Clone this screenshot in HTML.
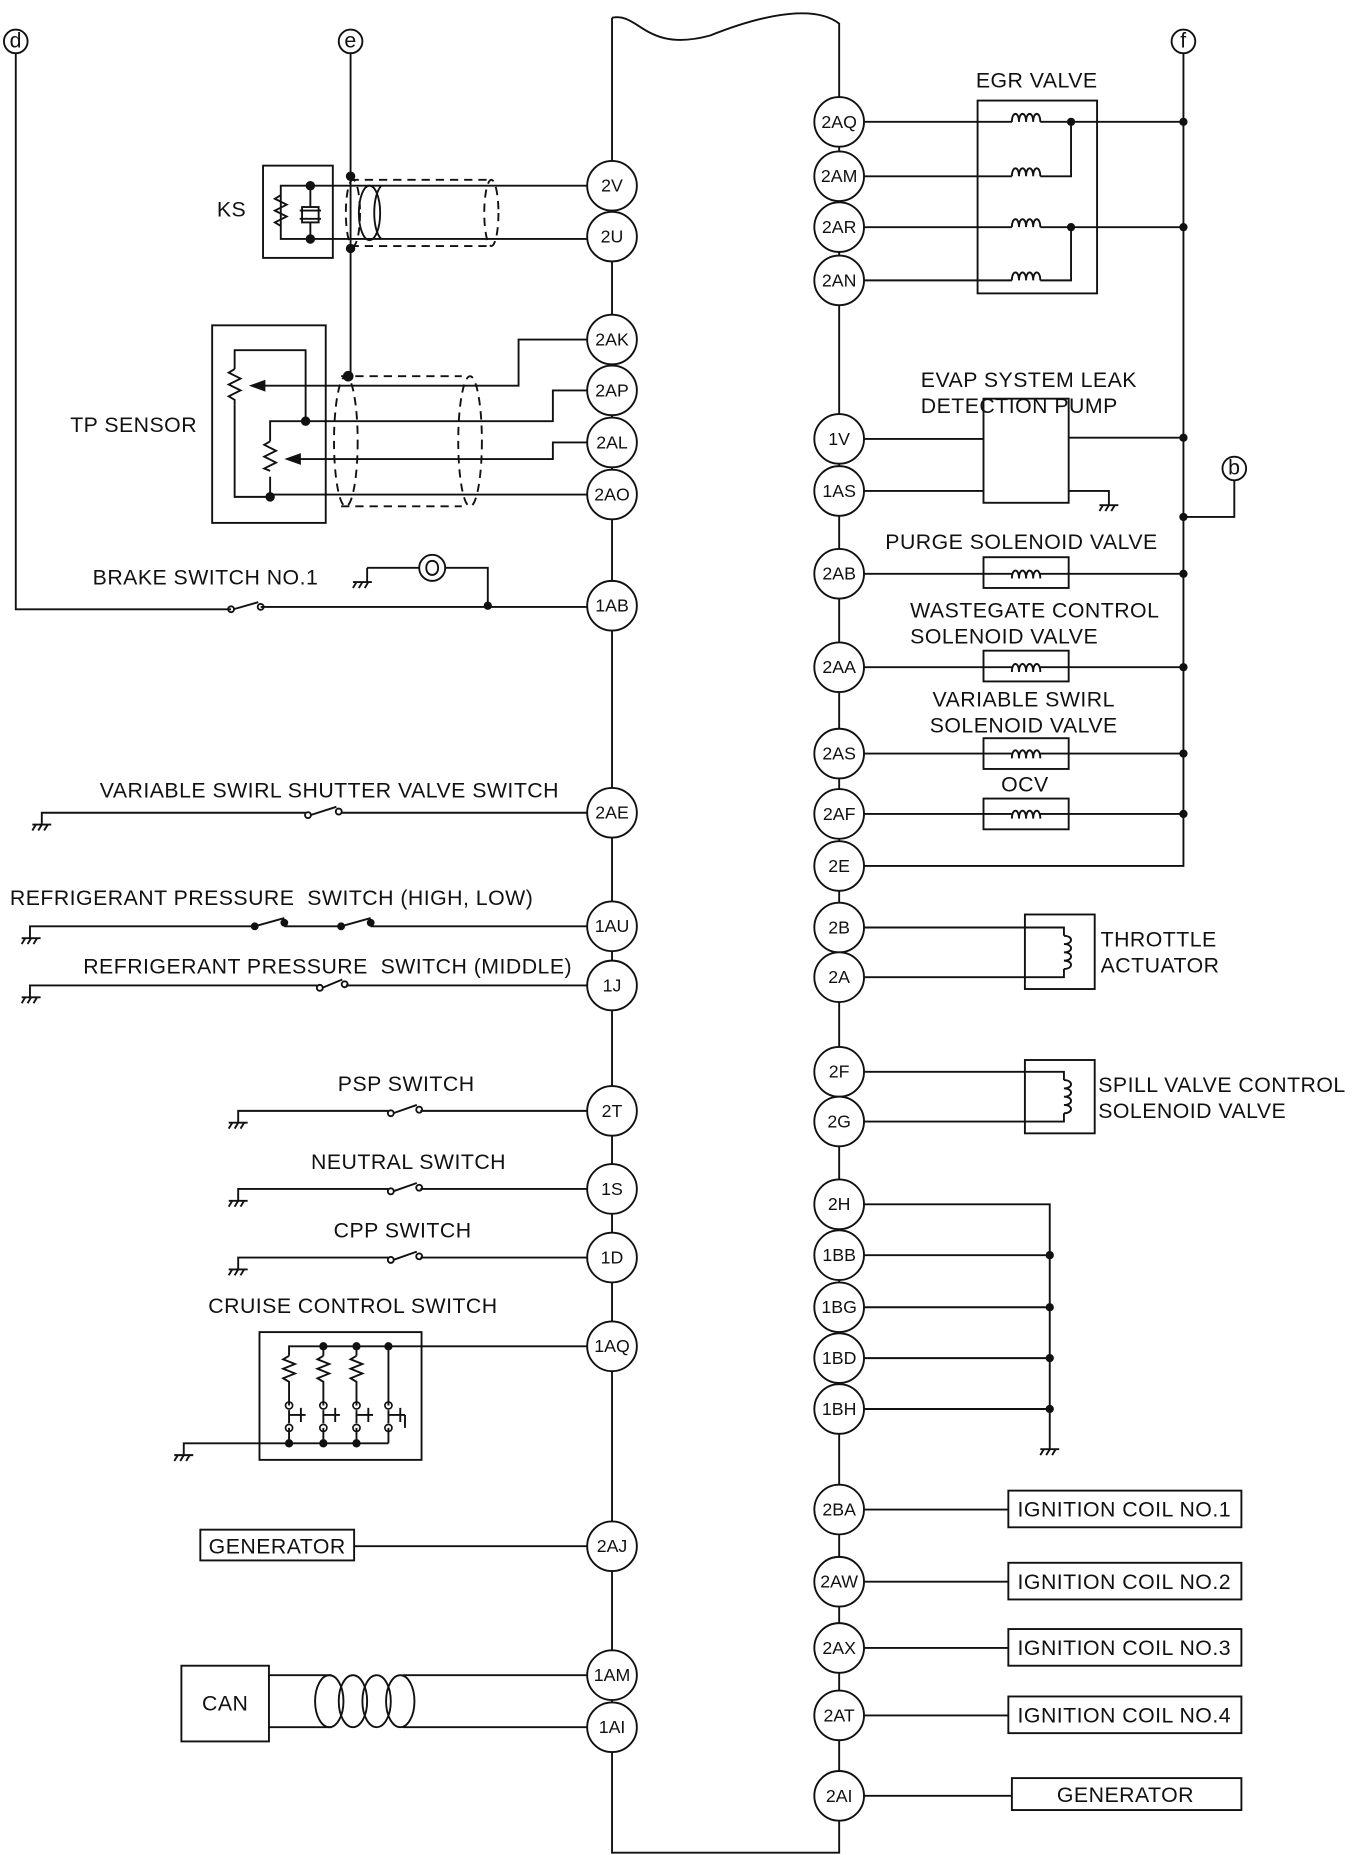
<!DOCTYPE html>
<html><head><meta charset="utf-8"><style>
html,body{margin:0;padding:0;background:#fff}
svg{display:block}
text{font-family:"Liberation Sans",Arial,sans-serif;font-size:18px;letter-spacing:0.4px;fill:#111}
.c text{font-size:15px;letter-spacing:0}
</style></head><body>
<svg width="1353" height="1855" viewBox="0 0 1143 1568" xmlns="http://www.w3.org/2000/svg">
<defs>
<g id="gnd"><line x1="0" y1="0" x2="16" y2="0"/><line x1="3" y1="0" x2="0" y2="5"/><line x1="8" y1="0" x2="5" y2="5"/><line x1="13" y1="0" x2="10" y2="5"/></g>
<g id="coil"><path d="M0,0 c0,-9 6,-9 6,0 c0,-9 6,-9 6,0 c0,-9 6,-9 6,0 c0,-9 6,-9 6,0" fill="none"/></g>
</defs>
<g stroke="#111" stroke-width="1.6" fill="none">
<!-- ECU -->
<path d="M517,15 V1566 H709 V20 C690,5 650,10 600,30 C545,45 540,10 517,15"/>
<!-- d, e, f, b -->
<circle cx="13" cy="35" r="10"/><path d="M13,45 V515 H195 M220,513 H496"/>
<circle cx="296" cy="35" r="10"/><path d="M296,45 V318"/>
<circle cx="1000" cy="35" r="10"/><path d="M1000,45 V732 H730"/>
<circle cx="1043" cy="396" r="10"/><path d="M1043,406 V437 H1000"/>
<!-- brake -->
<path d="M412,512 V480 H376 M354,480 H310"/><circle cx="365" cy="480" r="11"/>
<path d="M360,480 c0,-8 10,-8 10,0 c0,8 -10,8 -10,0"/>
<use href="#gnd" x="298" y="492"/><path d="M310,480 V492"/>
<circle cx="195" cy="515" r="2.5"/><circle cx="220" cy="513" r="2.5"/><path d="M197,515 L218,509"/>
<!-- KS -->
<rect x="222" y="140" width="59" height="78"/>
<path d="M262,157 H237 V202 H262 M262,157 V175 M262,188 V202"/>
<path d="M237,165 l-5,3 10,5 -10,5 10,5 -10,5 5,3"/>
<rect x="255" y="175" width="14" height="13"/><path d="M253,178 H271 M253,185 H271"/>
<path d="M262,157 H496 M262,202 H496"/>
<path d="M296,152 H415 M296,208 H415" stroke-dasharray="7,5"/>
<ellipse cx="298" cy="180" rx="6" ry="28" stroke-dasharray="7,5"/>
<ellipse cx="415" cy="180" rx="6" ry="28" stroke-dasharray="7,5"/>
<ellipse cx="312" cy="180" rx="9" ry="23"/>
<path d="M322,157 C314,165 314,195 322,202"/>
<!-- TP sensor -->
<rect x="179" y="275" width="96" height="167"/>
<path d="M258,356 V296 H198 V312 M198,342 V420 H228 M228,403 V420 M258,356 H228 V373"/>
<path d="M198,312 l-5,3 10,5 -10,5 10,5 -10,5 5,3 V342"/>
<path d="M228,373 l-5,3 10,5 -10,5 10,5 -10,5 5,2"/>
<path d="M496,287 H438 V326 H222 M496,330 H467 V356 H258 M496,374 H467 V388 H252 M496,418 H228"/>
<path d="M288,318 H390 M288,428 H390" stroke-dasharray="7,5"/>
<ellipse cx="292" cy="373" rx="10" ry="55" stroke-dasharray="7,5"/>
<ellipse cx="397" cy="373" rx="10" ry="55" stroke-dasharray="7,5"/>
<!-- VSSV -->
<path d="M35,697 V687 H258 M288,687 H496"/><use href="#gnd" x="27" y="697"/>
<circle cx="260" cy="689" r="2.5"/><circle cx="286" cy="686" r="2.5"/><path d="M262,689 L284,682"/>
<!-- Refrig HL -->
<path d="M25,793 V783 H215 M240,783 H288 M313,783 H496"/><use href="#gnd" x="18" y="793"/>
<path d="M215,783 L240,776 M288,783 L313,776"/><circle cx="215" cy="783" r="2.5" fill="#111"/><circle cx="240" cy="780" r="2.5" fill="#111"/><circle cx="288" cy="783" r="2.5" fill="#111"/><circle cx="313" cy="780" r="2.5" fill="#111"/>
<!-- Refrig Mid -->
<path d="M25,843 V833 H268 M292,833 H496"/><use href="#gnd" x="18" y="843"/>
<circle cx="270" cy="835" r="2.5"/><circle cx="291" cy="832" r="2.5"/><path d="M272,835 L289,828"/>
<!-- PSP / Neutral / CPP -->
<path d="M201,949 V939 H328 M355,939 H496"/><use href="#gnd" x="193" y="949"/>
<circle cx="330" cy="941" r="2.5"/><circle cx="354" cy="938" r="2.5"/><path d="M332,941 L352,934"/>
<path d="M201,1015 V1005 H328 M355,1005 H496"/><use href="#gnd" x="193" y="1015"/>
<circle cx="330" cy="1007" r="2.5"/><circle cx="354" cy="1004" r="2.5"/><path d="M332,1007 L352,1000"/>
<path d="M201,1073 V1063 H328 M355,1063 H496"/><use href="#gnd" x="193" y="1073"/>
<circle cx="330" cy="1065" r="2.5"/><circle cx="354" cy="1062" r="2.5"/><path d="M332,1065 L352,1058"/>
<!-- Cruise -->
<rect x="219" y="1126" width="137" height="108"/>
<path d="M496,1138 H244 V1146 M273,1138 V1146 M301,1138 V1146 M328,1138 V1188"/>
<path d="M244,1146 l-5,3 10,4 -10,4 10,4 -10,4 5,3 V1188 M273,1146 l-5,3 10,4 -10,4 10,4 -10,4 5,3 V1188 M301,1146 l-5,3 10,4 -10,4 10,4 -10,4 5,3 V1188"/>
<path d="M244,1192 V1203 M273,1192 V1203 M301,1192 V1203 M328,1192 V1203"/>
<path d="M254,1190 V1202 M258,1196 H244 M283,1190 V1202 M287,1196 H273 M311,1190 V1202 M315,1196 H301 M338,1190 V1202 M342,1196 H328 M342,1196 V1207"/>
<path d="M155,1230 V1220 H328 M244,1207 V1220 M273,1207 V1220 M301,1207 V1220 M328,1207 V1220"/>
<use href="#gnd" x="147" y="1230"/>
<!-- Generator left -->
<rect x="169" y="1293" width="130" height="26"/><path d="M299,1307 H496"/>
<!-- CAN -->
<rect x="153" y="1408" width="74" height="64"/>
<path d="M227,1416 H280 M227,1460 H280 M340,1416 H496 M340,1460 H496"/>
<ellipse cx="278" cy="1438" rx="12" ry="22"/><ellipse cx="298" cy="1438" rx="12" ry="22"/><ellipse cx="318" cy="1438" rx="12" ry="22"/><ellipse cx="338" cy="1438" rx="12" ry="22"/>
<!-- EGR -->
<rect x="826" y="85" width="101" height="163"/>
<path d="M730,103 H855 M879,103 H1000 M730,149 H855 M879,149 H905 V103 M730,192 H855 M879,192 H1000 M730,237 H855 M879,237 H905 V192"/>
<use href="#coil" x="855" y="103"/><use href="#coil" x="855" y="149"/><use href="#coil" x="855" y="192"/><use href="#coil" x="855" y="237"/>
<!-- EVAP -->
<rect x="831" y="337" width="72" height="88"/>
<path d="M730,371 H831 M903,370 H1000 M730,415 H831 M903,415 H937 V427"/><use href="#gnd" x="929" y="427"/>
<!-- solenoid boxes -->
<rect x="831" y="471" width="72" height="26"/><path d="M730,485 H855 M879,485 H1000"/>
<rect x="831" y="550" width="72" height="26"/><path d="M730,564 H855 M879,564 H1000"/>
<rect x="831" y="624" width="72" height="26"/><path d="M730,637 H855 M879,637 H1000"/>
<rect x="831" y="675" width="72" height="26"/><path d="M730,688 H855 M879,688 H1000"/>
<use href="#coil" x="855" y="489"/><use href="#coil" x="855" y="568"/><use href="#coil" x="855" y="641"/><use href="#coil" x="855" y="692"/>
<!-- throttle -->
<rect x="866" y="773" width="59" height="63"/>
<path d="M730,784 H899 V791 M899,819 V826 H730"/>
<path d="M899,791 c8,0 8,7 0,7 c8,0 8,7 0,7 c8,0 8,7 0,7 c8,0 8,7 0,7"/>
<rect x="866" y="896" width="59" height="62"/>
<path d="M730,906 H899 V913 M899,941 V948 H730"/>
<path d="M899,913 c8,0 8,7 0,7 c8,0 8,7 0,7 c8,0 8,7 0,7 c8,0 8,7 0,7"/>
<!-- ground bus -->
<path d="M730,1018 H887 V1225 M730,1061 H887 M730,1105 H887 M730,1148 H887 M730,1191 H887"/><use href="#gnd" x="879" y="1225"/>
<!-- ignition -->
<path d="M730,1276 H852 M730,1337 H852 M730,1393 H852 M730,1450 H852 M730,1518 H855"/>
<rect x="852" y="1260" width="197" height="31"/><rect x="852" y="1321" width="197" height="31"/>
<rect x="852" y="1377" width="197" height="31"/><rect x="852" y="1434" width="197" height="31"/>
<rect x="855" y="1503" width="194" height="27"/>
</g>
<!-- arrows -->
<path d="M210,326 l14,-5 v10z M240,388 l14,-5 v10z" fill="#111"/>
<!-- dots -->
<g fill="#111">
<circle cx="296" cy="149" r="4"/><circle cx="296" cy="210" r="4"/><circle cx="294" cy="318" r="4.5"/>
<circle cx="262" cy="157" r="4"/><circle cx="262" cy="202" r="4"/><circle cx="258" cy="356" r="4"/><circle cx="228" cy="420" r="4"/>
<circle cx="412" cy="512" r="3.5"/>
<circle cx="273" cy="1138" r="3.5"/><circle cx="301" cy="1138" r="3.5"/><circle cx="328" cy="1138" r="3.5"/>
<circle cx="244" cy="1220" r="3.5"/><circle cx="273" cy="1220" r="3.5"/><circle cx="301" cy="1220" r="3.5"/>
<circle cx="905" cy="103" r="3.5"/><circle cx="905" cy="192" r="3.5"/>
<circle cx="1000" cy="103" r="3.5"/><circle cx="1000" cy="192" r="3.5"/><circle cx="1000" cy="370" r="3.5"/><circle cx="1000" cy="437" r="3.5"/><circle cx="1000" cy="485" r="3.5"/><circle cx="1000" cy="564" r="3.5"/><circle cx="1000" cy="637" r="3.5"/><circle cx="1000" cy="688" r="3.5"/>
<circle cx="887" cy="1061" r="3.5"/><circle cx="887" cy="1105" r="3.5"/><circle cx="887" cy="1148" r="3.5"/><circle cx="887" cy="1191" r="3.5"/>
</g>
<g fill="none" stroke="#111" stroke-width="1.4">
<circle cx="244" cy="1188" r="3"/><circle cx="244" cy="1207" r="3"/><circle cx="273" cy="1188" r="3"/><circle cx="273" cy="1207" r="3"/><circle cx="301" cy="1188" r="3"/><circle cx="301" cy="1207" r="3"/><circle cx="328" cy="1188" r="3"/><circle cx="328" cy="1207" r="3"/>
</g>
<!-- small letters -->
<g text-anchor="middle" style="font-size:14px"><text x="13" y="40">d</text><text x="296" y="40">e</text><text x="1000" y="40">f</text><text x="1043" y="401">b</text></g>
<!-- connector circles -->
<g class="c" text-anchor="middle">
<g fill="#fff" stroke="#111" stroke-width="1.6">
<circle cx="517" cy="157" r="21"/><circle cx="517" cy="200" r="21"/><circle cx="517" cy="287" r="21"/><circle cx="517" cy="330" r="21"/><circle cx="517" cy="374" r="21"/><circle cx="517" cy="418" r="21"/><circle cx="517" cy="512" r="21"/><circle cx="517" cy="687" r="21"/><circle cx="517" cy="783" r="21"/><circle cx="517" cy="833" r="21"/><circle cx="517" cy="939" r="21"/><circle cx="517" cy="1005" r="21"/><circle cx="517" cy="1063" r="21"/><circle cx="517" cy="1138" r="21"/><circle cx="517" cy="1307" r="21"/><circle cx="517" cy="1416" r="21"/><circle cx="517" cy="1460" r="21"/>
<circle cx="709" cy="103" r="21"/><circle cx="709" cy="149" r="21"/><circle cx="709" cy="192" r="21"/><circle cx="709" cy="237" r="21"/><circle cx="709" cy="371" r="21"/><circle cx="709" cy="415" r="21"/><circle cx="709" cy="485" r="21"/><circle cx="709" cy="564" r="21"/><circle cx="709" cy="637" r="21"/><circle cx="709" cy="688" r="21"/><circle cx="709" cy="732" r="21"/><circle cx="709" cy="784" r="21"/><circle cx="709" cy="826" r="21"/><circle cx="709" cy="906" r="21"/><circle cx="709" cy="948" r="21"/><circle cx="709" cy="1018" r="21"/><circle cx="709" cy="1061" r="21"/><circle cx="709" cy="1105" r="21"/><circle cx="709" cy="1148" r="21"/><circle cx="709" cy="1191" r="21"/><circle cx="709" cy="1276" r="21"/><circle cx="709" cy="1337" r="21"/><circle cx="709" cy="1393" r="21"/><circle cx="709" cy="1450" r="21"/><circle cx="709" cy="1518" r="21"/>
</g>
<text x="517" y="162">2V</text><text x="517" y="205">2U</text><text x="517" y="292">2AK</text><text x="517" y="335">2AP</text><text x="517" y="379">2AL</text><text x="517" y="423">2AO</text><text x="517" y="517">1AB</text><text x="517" y="692">2AE</text><text x="517" y="788">1AU</text><text x="517" y="838">1J</text><text x="517" y="944">2T</text><text x="517" y="1010">1S</text><text x="517" y="1068">1D</text><text x="517" y="1143">1AQ</text><text x="517" y="1312">2AJ</text><text x="517" y="1421">1AM</text><text x="517" y="1465">1AI</text>
<text x="709" y="108">2AQ</text><text x="709" y="154">2AM</text><text x="709" y="197">2AR</text><text x="709" y="242">2AN</text><text x="709" y="376">1V</text><text x="709" y="420">1AS</text><text x="709" y="490">2AB</text><text x="709" y="569">2AA</text><text x="709" y="642">2AS</text><text x="709" y="693">2AF</text><text x="709" y="737">2E</text><text x="709" y="789">2B</text><text x="709" y="831">2A</text><text x="709" y="911">2F</text><text x="709" y="953">2G</text><text x="709" y="1023">2H</text><text x="709" y="1066">1BB</text><text x="709" y="1110">1BG</text><text x="709" y="1153">1BD</text><text x="709" y="1196">1BH</text><text x="709" y="1281">2BA</text><text x="709" y="1342">2AW</text><text x="709" y="1398">2AX</text><text x="709" y="1455">2AT</text><text x="709" y="1523">2AI</text>
</g>
<!-- labels -->
<text x="183" y="183">KS</text>
<text x="59" y="365">TP SENSOR</text>
<text x="78" y="494">BRAKE SWITCH NO.1</text>
<text x="84" y="674">VARIABLE SWIRL SHUTTER VALVE SWITCH</text>
<text x="8" y="765" xml:space="preserve">REFRIGERANT PRESSURE  SWITCH (HIGH, LOW)</text>
<text x="70" y="823" xml:space="preserve">REFRIGERANT PRESSURE  SWITCH (MIDDLE)</text>
<text x="343" y="922" text-anchor="middle">PSP SWITCH</text>
<text x="345" y="988" text-anchor="middle">NEUTRAL SWITCH</text>
<text x="340" y="1046" text-anchor="middle">CPP SWITCH</text>
<text x="298" y="1110" text-anchor="middle">CRUISE CONTROL SWITCH</text>
<text x="234" y="1313" text-anchor="middle">GENERATOR</text>
<text x="190" y="1446" text-anchor="middle">CAN</text>
<text x="876" y="74" text-anchor="middle">EGR VALVE</text>
<text x="778" y="327">EVAP SYSTEM LEAK</text>
<text x="778" y="349">DETECTION PUMP</text>
<text x="748" y="464">PURGE SOLENOID VALVE</text>
<text x="769" y="522">WASTEGATE CONTROL</text>
<text x="769" y="544">SOLENOID VALVE</text>
<text x="865" y="597" text-anchor="middle">VARIABLE SWIRL</text>
<text x="865" y="619" text-anchor="middle">SOLENOID VALVE</text>
<text x="866" y="669" text-anchor="middle">OCV</text>
<text x="930" y="800">THROTTLE</text>
<text x="930" y="822">ACTUATOR</text>
<text x="928" y="923">SPILL VALVE CONTROL</text>
<text x="928" y="945">SOLENOID VALVE</text>
<g text-anchor="middle"><text x="950" y="1282">IGNITION COIL NO.1</text><text x="950" y="1343">IGNITION COIL NO.2</text><text x="950" y="1399">IGNITION COIL NO.3</text><text x="950" y="1456">IGNITION COIL NO.4</text><text x="951" y="1523">GENERATOR</text></g>
</svg>
</body></html>
